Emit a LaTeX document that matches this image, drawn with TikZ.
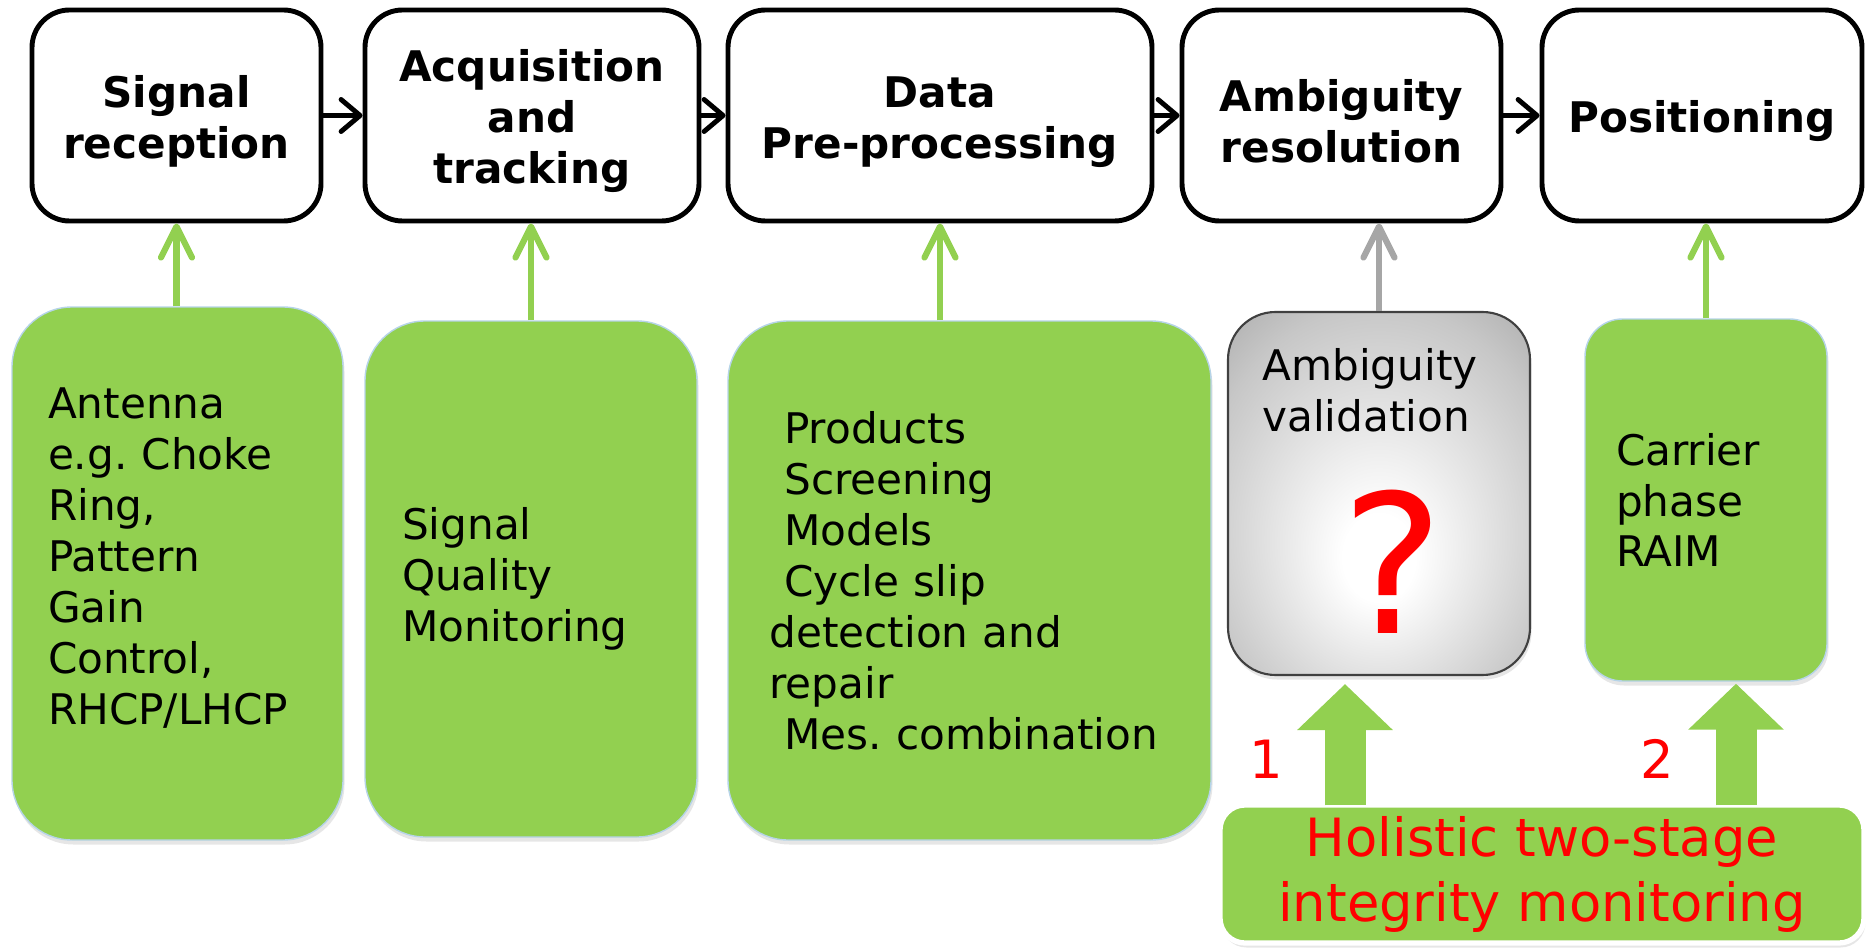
\documentclass[tikz,border=0pt]{standalone}
\usepackage{fontspec}
\setmainfont{DejaVu Sans}
\usetikzlibrary{arrows.meta,shadows}
\definecolor{leaf}{HTML}{92D050}
\definecolor{leafedge}{RGB}{182,212,232}
\definecolor{greyedge}{HTML}{404040}
\definecolor{greyarrow}{HTML}{A6A6A6}
\pgfdeclareradialshading{valshade}{\pgfpoint{0bp}{-10bp}}{color(0bp)=(white);color(6bp)=(white);color(30bp)=(black!22);color(46bp)=(black!42);color(52bp)=(black!46)}
\newcommand\padl{\hspace*{0.35em}}
\newcommand\topstrut{\rule{0pt}{0.88cm}}
\frenchspacing

\begin{document}
\begin{tikzpicture}
  [
    font=\fontsize{24}{29}\selectfont,
    stage box/.style={draw,rounded corners=0.75cm,line width=2.8pt,fill=white,minimum height=4.22cm,align=center,
      font=\fontsize{24}{29}\selectfont\bfseries},
    task box/.style={fill=leaf,draw=leafedge,line width=0.8pt,rounded corners=1.2cm,align=left,
      drop shadow={shadow xshift=0.03cm,shadow yshift=-0.09cm,opacity=0.2}},
    flow arrow/.style={line width=2.8pt,line cap=round,-{Straight Barb[length=0.38cm,width=0.64cm,round]}},
    feed arrow/.style={leaf,line width=3.5pt,-{Straight Barb[length=0.62cm,width=0.62cm,round]}},
    stage arrow/.style={leaf,line width=0.82cm,-{Triangle[length=0.92cm,width=1.86cm]}},
    red label/.style={text=red,font=\fontsize{30}{37}\selectfont},
  ]
  \useasboundingbox (0,0) rectangle (37.32,-19);

  % processing chain
  \node(sig)[stage box,minimum width=5.78cm] at (3.53,-2.31) {\topstrut Signal\\reception};
  \node(acq)[stage box,minimum width=6.68cm] at (10.64,-2.31) {\topstrut Acquisition\\and\\tracking};
  \node(pre)[stage box,minimum width=8.48cm] at (18.80,-2.31) {\topstrut Data\\Pre-processing};
  \node(amb)[stage box,minimum width=6.38cm] at (26.83,-2.31) {\topstrut Ambiguity\\resolution};
  \node(pos)[stage box,minimum width=6.40cm] at (34.04,-2.31) {\topstrut Positioning};

  \draw[flow arrow] (sig) -- (acq);
  \draw[flow arrow] (acq) -- (pre);
  \draw[flow arrow] (pre) -- (amb);
  \draw[flow arrow] (amb) -- (pos);

  % monitoring per stage
  \node(ant)[task box,minimum height=10.66cm,text width=5.18cm,inner xsep=0.72cm] at (3.55,-11.47)
    {Antenna\\e.g. Choke\\Ring,\\Pattern\\Gain\\Control,\\RHCP/LHCP\rule[-0.68cm]{0pt}{0pt}};
  \node(sqm)[task box,minimum height=10.32cm,text width=5.16cm,inner xsep=0.74cm] at (10.62,-11.58)
    {Signal\\Quality\\Monitoring};
  \node(prep)[task box,minimum height=10.38cm,text width=8.0cm,inner xsep=0.83cm] at (19.39,-11.61)
    {\padl Products\\\padl Screening\\\padl Models\\\padl Cycle slip\\detection and\\repair\\\padl Mes. combination};
  \node(val)[draw=greyedge,line width=1.2pt,rounded corners=0.95cm,shading=valshade,
    minimum width=6.04cm,minimum height=7.26cm,
    drop shadow={shadow xshift=0.03cm,shadow yshift=-0.09cm,opacity=0.2}] at (27.58,-9.87) {};
  \node(valtxt)[anchor=north west,align=left,inner sep=0pt] at (25.24,-6.96) {Ambiguity\\validation};
  \node(qmark)[anchor=base,text=red,font=\fontsize{110}{110}\selectfont,inner sep=0pt] at (27.86,-12.66) {?};
  \node(raim)[task box,rounded corners=0.75cm,minimum height=7.24cm,text width=3.6cm,inner xsep=0.62cm] at (34.12,-10.0)
    {Carrier\\phase\\RAIM};

  \draw[feed arrow] (sig.south |- ant.north) -- (sig.south);
  \draw[feed arrow] (sqm.north) -- (sqm.north |- acq.south);
  \draw[feed arrow] (pre.south |- prep.north) -- (pre.south);
  \draw[feed arrow,greyarrow] (val.north) -- (val.north |- amb.south);
  \draw[feed arrow] (raim.north) -- (raim.north |- pos.south);

  % two-stage integrity monitoring
  \node(hol)[task box,draw=white,line width=3pt,rounded corners=0.5cm,minimum width=12.88cm,minimum height=2.76cm,
    red label,align=center] at (30.84,-17.48) {Holistic two-stage\\integrity monitoring};
  \coordinate(s1) at ([xshift=-3.94cm]hol.north);
  \coordinate(s2) at ([xshift=3.88cm]hol.north);
  \draw[stage arrow,shorten <=-0.06cm,shorten >=0.16cm] (s1) -- (s1 |- val.south);
  \draw[stage arrow,shorten <=-0.06cm,shorten >=0.04cm] (s2) -- (s2 |- raim.south);
  \node(one)[anchor=base,red label] at (25.32,-15.56) {1};
  \node(two)[anchor=base,red label] at (33.14,-15.56) {2};

\end{tikzpicture}
\end{document}
